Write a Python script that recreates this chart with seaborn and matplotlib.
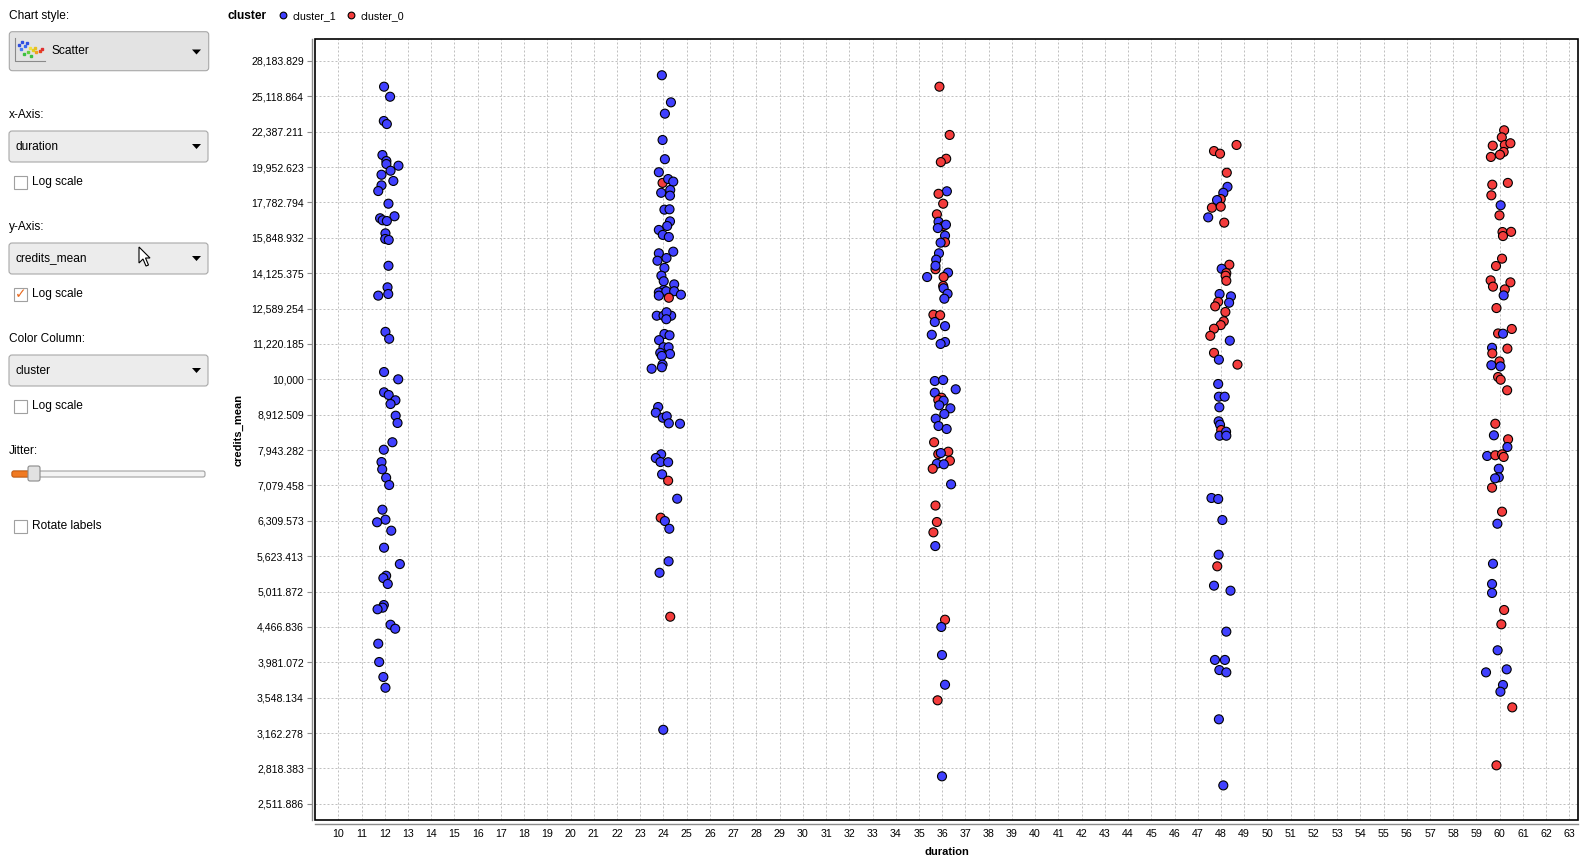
import numpy as np
import pandas as pd
import matplotlib
matplotlib.use("Agg")
import matplotlib.pyplot as plt
import seaborn as sns
from matplotlib.patches import FancyBboxPatch, Rectangle, Polygon
from matplotlib.lines import Line2D
from matplotlib.ticker import NullLocator
from matplotlib.transforms import IdentityTransform

# ---------------------------------------------------------------- data
# duration (with the viewer's jitter as read), credits_mean, cluster id
dur_12 = [11.97, 12.23, 11.96, 12.09, 11.90, 12.07, 12.07, 12.59, 12.25, 11.86,
          12.37, 11.86, 11.72, 12.16, 11.80, 12.42, 11.91, 12.09, 12.03, 12.02,
          12.17, 12.16, 12.12, 11.72, 12.15, 12.03, 12.19, 11.97, 12.58, 11.97,
          12.17, 12.46, 12.25, 12.47, 12.55, 12.33, 11.96, 11.86, 11.89, 12.06,
          12.19, 11.90, 12.03, 11.67, 12.28, 11.97, 12.65, 12.06, 11.94, 12.13,
          11.96, 11.91, 11.69, 12.25, 12.45, 11.72, 11.76, 11.94, 12.03]
cred_12 = [25918, 25085, 23180, 22950, 20750, 20350, 20150, 20040, 19716, 19460,
           19070, 18800, 18455, 17710, 16890, 17000, 16780, 16740, 16080, 15790,
           15740, 14470, 13490, 13130, 13200, 11670, 11410, 10240, 10000, 9586,
           9502, 9340, 9228, 8883, 8675, 8148, 7952, 7640, 7461, 7259,
           7089, 6542, 6333, 6280, 6110, 5781, 5481, 5277, 5237, 5137,
           4797, 4756, 4731, 4499, 4441, 4230, 3985, 3795, 3665]
clu_12 = [1, 1, 1, 1, 1, 1, 1, 1, 1, 1,
          1, 1, 1, 1, 1, 1, 1, 1, 1, 1,
          1, 1, 1, 1, 1, 1, 1, 1, 1, 1,
          1, 1, 1, 1, 1, 1, 1, 1, 1, 1,
          1, 1, 1, 1, 1, 1, 1, 1, 1, 1,
          1, 1, 1, 1, 1, 1, 1, 1, 1]

dur_24 = [23.93, 24.32, 24.06, 23.96, 24.06, 23.80, 23.96, 24.20, 24.42, 24.29,
          23.90, 24.28, 24.04, 24.26, 24.28, 24.16, 23.80, 23.97, 24.23, 24.42,
          23.80, 24.13, 23.74, 24.04, 23.91, 24.01, 24.46, 24.00, 23.80, 24.12,
          24.46, 23.80, 24.75, 24.23, 23.71, 24.00, 24.33, 24.13, 24.12, 24.04,
          24.26, 23.81, 24.00, 24.22, 23.86, 24.28, 23.93, 23.96, 23.93, 23.49,
          23.77, 23.67, 23.97, 24.14, 24.23, 24.71, 23.90, 23.67, 23.87, 24.20,
          23.94, 24.20, 24.59, 23.88, 24.06, 24.25, 24.22, 23.83, 24.29, 23.99]
cred_24 = [26900, 24630, 23740, 21790, 20470, 19620, 18950, 19190, 19030, 18520,
           18350, 18180, 17370, 17390, 16720, 16470, 16260, 16000, 15890, 15150,
           15070, 14840, 14710, 14370, 14010, 13760, 13620, 13370, 13270, 13320,
           13320, 13130, 13170, 13040, 12300, 12300, 12300, 12440, 12160, 11590,
           11540, 11360, 11100, 11100, 10900, 10860, 10790, 10490, 10400, 10350,
           9138, 8971, 8825, 8866, 8665, 8654, 7834, 7740, 7640, 7635,
           7340, 7189, 6780, 6374, 6305, 6149, 5530, 5328, 4618, 3196]
clu_24 = [1, 1, 1, 1, 1, 1, 0, 1, 1, 1,
          1, 1, 1, 1, 1, 1, 1, 1, 1, 1,
          1, 1, 1, 1, 1, 1, 1, 1, 1, 1,
          1, 1, 1, 0, 1, 1, 1, 1, 1, 1,
          1, 1, 1, 1, 1, 1, 1, 1, 1, 1,
          1, 1, 1, 1, 1, 1, 1, 1, 1, 1,
          1, 0, 1, 0, 1, 1, 1, 1, 0, 1]

dur_36 = [35.88, 36.32, 36.17, 35.94, 36.20, 35.84, 36.04, 35.77, 35.84, 36.06,
          36.16, 35.81, 36.12, 36.12, 35.93, 35.86, 35.74, 35.71, 35.71, 36.25,
          36.06, 35.35, 36.04, 36.06, 36.23, 36.09, 35.62, 35.91, 35.68, 36.12,
          35.55, 36.12, 35.93, 35.68, 36.04, 36.58, 35.68, 35.97, 35.83, 36.06,
          35.87, 36.35, 36.09, 35.72, 35.84, 36.19, 35.65, 36.26, 35.83, 35.94,
          36.33, 35.77, 36.07, 35.59, 36.38, 35.71, 35.77, 35.62, 35.70, 36.12,
          35.96, 35.99, 36.12, 35.80, 35.99]
cred_36 = [25918, 22150, 20500, 20280, 18440, 18290, 17710, 17110, 16700, 16470,
           16540, 16360, 15960, 15620, 15600, 15070, 14760, 14310, 14470, 14150,
           13950, 13950, 13550, 13450, 13210, 13000, 12340, 12320, 12050, 11890,
           11560, 11290, 11220, 9945, 9977, 9680, 9573, 9419, 9348, 9328,
           9189, 9099, 8933, 8797, 8590, 8507, 8148, 7901, 7841, 7867,
           7672, 7598, 7584, 7475, 7105, 6631, 6285, 6077, 5812, 4573,
           4466, 4077, 3701, 3518, 2747]
clu_36 = [0, 0, 0, 0, 1, 0, 0, 0, 1, 0,
          1, 1, 1, 0, 1, 1, 1, 0, 1, 1,
          0, 1, 0, 1, 1, 1, 0, 0, 1, 1,
          1, 1, 1, 1, 1, 1, 1, 0, 0, 1,
          1, 1, 1, 1, 1, 1, 0, 0, 0, 1,
          0, 1, 1, 0, 1, 0, 0, 0, 1, 0,
          1, 1, 1, 0, 1]

dur_48 = [48.67, 47.70, 47.96, 48.25, 48.28, 48.10, 47.99, 47.83, 47.61, 47.99,
          47.45, 48.14, 48.36, 48.03, 48.23, 48.20, 48.23, 47.94, 48.43, 48.35,
          47.88, 47.75, 48.19, 48.12, 47.99, 47.70, 47.54, 48.38, 47.70, 47.91,
          48.71, 47.88, 47.91, 48.16, 47.93, 47.90, 47.96, 48.01, 47.94, 48.22,
          48.23, 47.59, 47.88, 48.06, 47.90, 47.84, 47.70, 48.41, 48.23, 47.74,
          48.17, 47.93, 48.23, 47.91, 48.10]
cred_48 = [21440, 21020, 20840, 19590, 18710, 18350, 17980, 17920, 17480, 17540,
           16940, 16650, 14520, 14330, 14130, 14010, 13780, 13200, 13100, 12830,
           12870, 12680, 12450, 12080, 11930, 11790, 11520, 11340, 10900, 10660,
           10490, 9849, 9450, 9450, 9130, 8722, 8626, 8478, 8323, 8432,
           8323, 6796, 6774, 6326, 5650, 5441, 5109, 5026, 4399, 4012,
           4012, 3882, 3853, 3307, 2667]
clu_48 = [0, 0, 0, 0, 1, 1, 0, 1, 0, 0,
          1, 0, 0, 1, 0, 0, 0, 1, 1, 1,
          0, 0, 0, 0, 0, 0, 0, 1, 0, 1,
          0, 1, 1, 1, 1, 1, 1, 0, 1, 1,
          1, 1, 1, 1, 1, 0, 1, 1, 1, 1,
          1, 1, 1, 1, 1]

dur_60 = [60.19, 60.09, 59.70, 60.22, 60.46, 60.17, 60.01, 59.62, 60.35, 59.68,
          59.64, 60.04, 59.99, 60.12, 60.49, 60.14, 60.10, 59.84, 59.61, 59.71,
          60.46, 60.22, 60.17, 59.86, 60.52, 59.93, 60.14, 59.67, 60.33, 59.68,
          59.99, 59.64, 60.03, 59.93, 60.04, 60.32, 59.81, 59.75, 60.36, 60.33,
          59.46, 59.81, 60.10, 60.17, 59.96, 59.96, 59.80, 59.67, 60.10, 59.90,
          59.71, 59.67, 59.67, 60.19, 60.07, 59.91, 60.30, 59.41, 60.14, 60.03,
          60.54, 59.86]
cred_60 = [22490, 21980, 21390, 21440, 21560, 20960, 20770, 20620, 18950, 18840,
           18200, 17620, 17050, 16150, 16160, 15940, 14810, 14460, 13800, 13520,
           13710, 13400, 13140, 12610, 11780, 11610, 11600, 11080, 11050, 10880,
           10600, 10470, 10430, 10075, 9987, 9649, 8654, 8334, 8227, 8023,
           7792, 7810, 7834, 7767, 7475, 7269, 7245, 7028, 6500, 6250,
           5487, 5137, 4989, 4720, 4505, 4140, 3891, 3853, 3698, 3618,
           3438, 2847]
clu_60 = [0, 0, 0, 0, 0, 0, 0, 0, 0, 0,
          0, 1, 0, 0, 0, 0, 0, 0, 0, 0,
          0, 0, 1, 0, 0, 0, 1, 1, 0, 0,
          0, 1, 1, 0, 0, 0, 0, 1, 0, 1,
          1, 0, 0, 0, 1, 1, 1, 0, 0, 1,
          1, 1, 1, 0, 0, 1, 1, 1, 1, 1,
          0, 0]

CLUSTER_NAMES = {1: "cluster_1", 0: "cluster_0"}
HUE_ORDER = ["cluster_1", "cluster_0"]
X_TICKS = list(range(10, 64))
Y_TICK_LABELS = ["2,511.886", "2,818.383", "3,162.278", "3,548.134", "3,981.072",
                 "4,466.836", "5,011.872", "5,623.413", "6,309.573", "7,079.458",
                 "7,943.282", "8,912.509", "10,000", "11,220.185", "12,589.254",
                 "14,125.375", "15,848.932", "17,782.794", "19,952.623",
                 "22,387.211", "25,118.864", "28,183.829"]

# ---------------------------------------------------------------- style
plt.rcParams['font.family'] = ['Liberation Sans', 'DejaVu Sans']
BLUE = "#4040ff"
RED = "#f43c3c"
W, H = 1585, 855
T = IdentityTransform()

df = pd.DataFrame({
    "duration": dur_12 + dur_24 + dur_36 + dur_48 + dur_60,
    "credits_mean": cred_12 + cred_24 + cred_36 + cred_48 + cred_60,
    "cluster": [CLUSTER_NAMES[c] for c in clu_12 + clu_24 + clu_36 + clu_48 + clu_60],
})

fig = plt.figure(figsize=(W / 100, H / 100), dpi=100, facecolor="white")
L, R, TOP, BOT = 315.3, 1578.0, 39.3, 820.0
ax = fig.add_axes([L / W, 1 - BOT / H, (R - L) / W, (BOT - TOP) / H])

sns.scatterplot(data=df, x="duration", y="credits_mean", hue="cluster",
                hue_order=HUE_ORDER, palette={"cluster_1": BLUE, "cluster_0": RED},
                s=42, edgecolor="black", linewidth=0.8, ax=ax, legend=True, zorder=3)

ax.set_yscale("log")
ax.set_xlim(9.01, 63.37)
ax.set_ylim(2383, 30240)
yvals = [float(s.replace(",", "")) for s in Y_TICK_LABELS]
ax.set_yticks(yvals)
ax.set_yticklabels(Y_TICK_LABELS)
ax.yaxis.set_minor_locator(NullLocator())
ax.set_xticks(X_TICKS)
ax.set_xticklabels([str(t) for t in X_TICKS])
ax.xaxis.set_minor_locator(NullLocator())

ax.grid(True, color="#c0c0c0", linestyle=(0, (2, 2)), linewidth=0.72)
ax.set_axisbelow(True)
for side in ("top", "right"):
    ax.spines[side].set_visible(False)
for side, off in (("left", 2.6), ("bottom", 2.9)):
    ax.spines[side].set_position(("outward", off))
    ax.spines[side].set_color("#8c8c8c")
    ax.spines[side].set_linewidth(1.0)
ax.add_patch(Rectangle((0, 0), 1, 1, transform=ax.transAxes, fill=False,
                       ec="black", lw=1.2, clip_on=False, zorder=5))
ax.tick_params(axis="y", direction="out", length=3.6, width=0.8, color="#8c8c8c",
               pad=2, labelsize=7.6, labelcolor="black")
ax.tick_params(axis="x", length=0, pad=3.8, labelsize=7.7, labelcolor="black")

ax.set_ylabel("credits_mean", fontweight="bold", fontsize=8)
ax.yaxis.label.set_va("center")
ax.yaxis.label.set_ha("center")
ax.yaxis.set_label_coords((239 - L) / (R - L), 0.5)
ax.set_xlabel("duration", fontweight="bold", fontsize=8)
ax.xaxis.label.set_va("center")
ax.xaxis.set_label_coords(0.5, -(852 - BOT) / (BOT - TOP))

sns.move_legend(ax, "center left", bbox_to_anchor=(278.4 / W, 1 - 15.7 / H),
                bbox_transform=fig.transFigure, ncol=2, title=None, frameon=False,
                fontsize=7.7, handletextpad=0.5, columnspacing=1.0,
                handlelength=0.8, borderpad=0, borderaxespad=0, markerscale=0.75)
fig.text(227.7, H - 15.7, "cluster", transform=T, fontweight="bold", fontsize=8.6,
         va="center", ha="left")

# ---------------------------------------------------------------- side panel
PANEL_FS = 8.6


def ptext(x, y, s, **kw):
    fig.text(x, H - y, s, transform=T, fontsize=kw.pop("fontsize", PANEL_FS),
             va="center", ha=kw.pop("ha", "left"), **kw)


def rbox(x0, y0, x1, y1, fc, ec, r=3, lw=0.8, z=1):
    fig.add_artist(FancyBboxPatch((x0, H - y1), x1 - x0, y1 - y0,
                                  boxstyle=f"round,pad=0,rounding_size={r}",
                                  fc=fc, ec=ec, lw=lw, transform=T, zorder=z))


def arrow(xc, yc):
    fig.add_artist(Polygon([(xc - 4.5, H - yc + 2.5), (xc + 4.5, H - yc + 2.5),
                            (xc, H - yc - 2.5)], closed=True, fc="black", ec="none",
                           transform=T, zorder=3))


def checkbox(yc, text, checked=False):
    fig.add_artist(Rectangle((14, H - yc - 6.5), 13, 13, fc="white", ec="#a0a0a0",
                             lw=0.8, transform=T, zorder=2))
    if checked:
        fig.text(20.5, H - yc, "\u2713", transform=T, color="#e8691e",
                 fontsize=10, fontweight="bold", family=["DejaVu Sans"],
                 ha="center", va="center", zorder=3)
    ptext(32, yc, text)


ptext(9.3, 15.7, "Chart style:")
rbox(9.3, 31.7, 208.7, 70.7, "#e3e3e3", "#a8a8a8")
# small scatter icon
fig.add_artist(Line2D([15, 15, 45], [H - 38, H - 61, H - 61], color="#8a8a8a",
                      lw=0.8, transform=T, zorder=3))
for cx, cy, cc in [(19, 45, "#3050e0"), (22, 42, "#3050e0"), (25, 46, "#3868f0"),
                   (21, 49, "#4a7cf0"), (27, 43, "#3050e0"), (24, 54, "#3cc040"),
                   (28, 52, "#60d040"), (31, 56, "#3cc040"), (33, 50, "#e0d020"),
                   (36, 52, "#f0a020"), (35, 48, "#e8c020"), (40, 51, "#e84020"),
                   (42, 49, "#e03030"), (30, 48, "#f0e040")]:
    fig.add_artist(Line2D([cx], [H - cy], marker="s", ms=1.6, color=cc, lw=0,
                          transform=T, zorder=3))
ptext(52, 50.7, "Scatter")
arrow(196.5, 52)

ptext(9, 115, "x-Axis:")
rbox(9, 131, 208, 162, "#ececec", "#a8a8a8")
ptext(15, 146.5, "duration")
arrow(196.5, 146.5)
checkbox(182, "Log scale")

ptext(9, 227, "y-Axis:")
rbox(9, 243, 208, 274, "#ececec", "#a8a8a8")
ptext(15, 258.5, "credits_mean")
arrow(196.5, 258.5)
# mouse pointer
fig.add_artist(Polygon([(139, H - 247), (139, H - 263), (143, H - 259),
                        (146, H - 266), (148.5, H - 265), (145.5, H - 258),
                        (150, H - 258)], closed=True, fc="white", ec="black",
                       lw=0.8, transform=T, zorder=4))
checkbox(294, "Log scale", checked=True)

ptext(9, 339, "Color Column:")
rbox(9, 355, 208, 386, "#ececec", "#a8a8a8")
ptext(15, 370.5, "cluster")
arrow(196.5, 370.5)
checkbox(406, "Log scale")

ptext(9, 451, "Jitter:")
rbox(12, 471, 205, 477, "#f4f4f4", "#a0a0a0", r=2)
rbox(12, 471, 31, 477, "#f07a22", "#d06010", r=2, z=2)
rbox(28, 466, 40, 481, "#e2e2e2", "#8a8a8a", r=2, z=3)
checkbox(526, "Rotate labels")

fig.savefig("out.png", dpi=100, facecolor="white")
